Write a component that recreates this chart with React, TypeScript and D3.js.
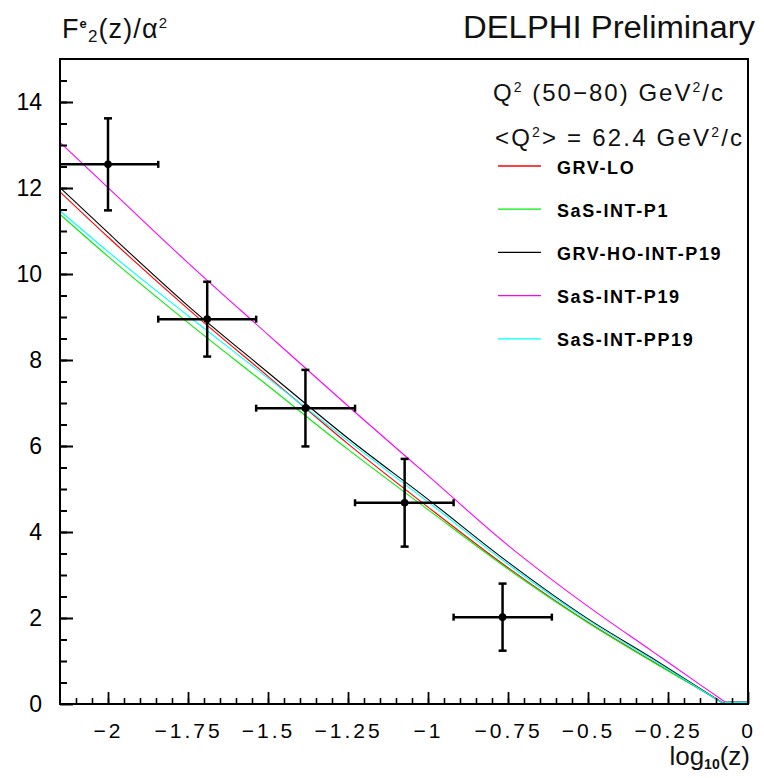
import { useEffect, useRef } from 'react'
import * as d3 from 'd3'

const W = 764
const H = 778
const FONT = '"Liberation Sans", Arial, sans-serif'

// axes
const xDomain = [-2.15, 0]
const yDomain = [0, 15]
const xTicks = [-2, -1.75, -1.5, -1.25, -1, -0.75, -0.5, -0.25, 0]
const yTicks = [0, 2, 4, 6, 8, 10, 12, 14]

// measured points (DELPHI)
const dataX = [-2.0, -1.69, -1.383, -1.073, -0.767]
const dataY = [12.55, 8.95, 6.88, 4.68, 2.02]
const dataYErr = [1.07, 0.87, 0.89, 1.02, 0.78]
const binEdges = [-2.15, -1.843, -1.537, -1.228, -0.92, -0.613]

// model curves, sampled at curveX, then zero from curveEnd up to 0
const curveX = [-2.15, -2.0, -1.75, -1.5, -1.25, -1.0, -0.75, -0.5, -0.3, -0.15]
const grvLo = [11.91, 10.86, 9.19, 7.62, 6.05, 4.58, 3.17, 1.9, 1.0, 0.34]
const sasP1 = [11.39, 10.41, 8.87, 7.4, 5.92, 4.52, 3.14, 1.89, 0.99, 0.34]
const grvHoP19 = [12.01, 10.96, 9.26, 7.71, 6.18, 4.76, 3.3, 1.98, 1.07, 0.36]
const sasP19 = [13.06, 12.01, 10.26, 8.59, 6.93, 5.31, 3.69, 2.27, 1.23, 0.45]
const sasPP19 = [11.47, 10.52, 9.03, 7.58, 6.12, 4.7, 3.25, 1.95, 1.04, 0.35]
const curveEnd = [-0.073, -0.073, -0.073, -0.0625, -0.073]

const seriesNames = ['GRV-LO', 'SaS-INT-P1', 'GRV-HO-INT-P19', 'SaS-INT-P19', 'SaS-INT-PP19']
const seriesValues = [grvLo, sasP1, grvHoP19, sasP19, sasPP19]
const seriesColors = ['#ff0000', '#00ee00', '#000000', '#ff00ff', '#00ffff']

export default function App() {
  const svgRef = useRef<SVGSVGElement>(null)

  useEffect(() => {
    const svg = d3.select(svgRef.current)
    svg.selectAll('*').remove()

    const x = d3.scaleLinear().domain(xDomain).range([60, 748])
    const y = d3.scaleLinear().domain(yDomain).range([704, 59])

    svg.append('rect').attr('width', W).attr('height', H).attr('fill', '#fff')

    // curves
    const line = d3
      .line<[number, number]>()
      .x((d) => x(d[0]))
      .y((d) => y(d[1]))
      .curve(d3.curveMonotoneX)

    seriesValues.forEach((vals, i) => {
      const pts: [number, number][] = curveX.map((cx, j) => [cx, vals[j]])
      pts.push([curveEnd[i], 0])
      svg
        .append('path')
        .attr('d', line(pts))
        .attr('fill', 'none')
        .attr('stroke', seriesColors[i])
        .attr('stroke-width', 1.1)
      svg
        .append('line')
        .attr('x1', x(curveEnd[i]))
        .attr('x2', x(0))
        .attr('y1', y(0) - 1.6)
        .attr('y2', y(0) - 1.6)
        .attr('stroke', seriesColors[i])
        .attr('stroke-width', 1.3)
    })

    // error bars + markers
    const pts = svg.append('g').attr('stroke', '#000').attr('stroke-width', 2.5)
    dataX.forEach((dx, i) => {
      const cx = x(dx)
      const cy = y(dataY[i])
      const yl = y(dataY[i] - dataYErr[i])
      const yh = y(dataY[i] + dataYErr[i])
      const xl = x(binEdges[i])
      const xh = x(binEdges[i + 1])
      pts.append('line').attr('x1', cx).attr('x2', cx).attr('y1', yl).attr('y2', yh)
      pts.append('line').attr('x1', cx - 4).attr('x2', cx + 4).attr('y1', yl).attr('y2', yl)
      pts.append('line').attr('x1', cx - 4).attr('x2', cx + 4).attr('y1', yh).attr('y2', yh)
      pts.append('line').attr('x1', xl).attr('x2', xh).attr('y1', cy).attr('y2', cy)
      if (i > 0) pts.append('line').attr('x1', xl).attr('x2', xl).attr('y1', cy - 3.5).attr('y2', cy + 3.5)
      pts.append('line').attr('x1', xh).attr('x2', xh).attr('y1', cy - 3.5).attr('y2', cy + 3.5)
      svg.append('circle').attr('cx', cx).attr('cy', cy).attr('r', 3.8).attr('fill', '#000')
    })

    // axes
    const fmtX = (d: number) => (d === 0 ? '0' : '\u2212' + Math.abs(d))
    const xMinor = d3.range(-2.1, -0.01, 0.05)
    const yMinor = d3.range(0.5, 15, 0.5)

    svg
      .append('g')
      .attr('transform', `translate(0,${y(0)})`)
      .call(d3.axisBottom(x).tickValues(xMinor).tickSizeInner(-6).tickSizeOuter(0).tickFormat(() => ''))
      .call((a) => a.select('.domain').remove())
      .selectAll('line')
      .attr('stroke-width', 1.6)

    const xa = svg
      .append('g')
      .attr('transform', `translate(0,${y(0)})`)
      .call(d3.axisBottom(x).tickValues(xTicks).tickSizeInner(-12).tickSizeOuter(0).tickPadding(19).tickFormat(fmtX))
    xa.select('.domain').remove()
    xa.selectAll('line').attr('stroke-width', 1.8)
    xa.selectAll('text')
      .style('font-family', FONT)
      .style('font-size', '21px')
      .style('letter-spacing', '3px')
      .attr('fill', '#000')

    svg
      .append('g')
      .attr('transform', `translate(${x(-2.15)},0)`)
      .call(d3.axisLeft(y).tickValues(yMinor).tickSizeInner(-7).tickSizeOuter(0).tickFormat(() => ''))
      .call((a) => a.select('.domain').remove())
      .selectAll('line')
      .attr('stroke-width', 2)

    const ya = svg
      .append('g')
      .attr('transform', `translate(${x(-2.15)},0)`)
      .call(d3.axisLeft(y).tickValues(yTicks).tickSizeInner(-13).tickSizeOuter(0).tickPadding(18).tickFormat(d3.format('d')))
    ya.select('.domain').remove()
    ya.selectAll('line').attr('stroke-width', 2)
    ya.selectAll('text').style('font-family', FONT).style('font-size', '23px').attr('fill', '#000')

    // frame
    svg
      .append('rect')
      .attr('x', x(-2.15))
      .attr('y', y(15))
      .attr('width', x(0) - x(-2.15))
      .attr('height', y(0) - y(15))
      .attr('fill', 'none')
      .attr('stroke', '#000')
      .attr('stroke-width', 2)

    // legend
    const leg = svg.append('g')
    seriesNames.forEach((name, i) => {
      const ly = 166 + i * 43.2
      leg.append('line').attr('x1', 498).attr('x2', 541).attr('y1', ly).attr('y2', ly)
        .attr('stroke', seriesColors[i]).attr('stroke-width', 1.3)
      leg.append('text').attr('x', 557).attr('y', ly + 7.5).text(name)
        .style('font-family', FONT).style('font-size', '18px').style('font-weight', 'bold')
        .style('letter-spacing', '1.6px').attr('fill', '#000')
    })

    // titles
    const t = svg.append('g').style('font-family', FONT).attr('fill', '#111')

    t.append('text').attr('x', 463).attr('y', 38).attr('textLength', 292).attr('lengthAdjust', 'spacingAndGlyphs')
      .style('font-size', '31px').text('DELPHI Preliminary')

    const q1 = t.append('text').attr('x', 493).attr('y', 101).attr('textLength', 230).style('font-size', '24px')
    q1.append('tspan').text('Q')
    q1.append('tspan').attr('dy', -9).style('font-size', '14px').text('2')
    q1.append('tspan').attr('dy', 9).text(' (50\u221280) GeV')
    q1.append('tspan').attr('dy', -9).style('font-size', '14px').text('2')
    q1.append('tspan').attr('dy', 9).text('/c')

    const q2 = t.append('text').attr('x', 495).attr('y', 146).attr('textLength', 247).style('font-size', '24px')
    q2.append('tspan').text('<Q')
    q2.append('tspan').attr('dy', -9).style('font-size', '14px').text('2')
    q2.append('tspan').attr('dy', 9).text('> = 62.4 GeV')
    q2.append('tspan').attr('dy', -9).style('font-size', '14px').text('2')
    q2.append('tspan').attr('dy', 9).text('/c')

    const yt = t.append('text').attr('x', 62).attr('y', 38).attr('textLength', 105).style('font-size', '27px')
    yt.append('tspan').text('F')
    yt.append('tspan').attr('dy', -10).style('font-size', '13px').style('font-weight', 'bold').text('e')
    yt.append('tspan').attr('dy', 14).style('font-size', '17px').text('2')
    yt.append('tspan').attr('dy', -4).text('(z)/\u03b1')
    yt.append('tspan').attr('dy', -10).style('font-size', '15px').text('2')

    const xt = t.append('text').attr('x', 750).attr('y', 765).attr('text-anchor', 'end').style('font-size', '26px')
    xt.append('tspan').text('log')
    xt.append('tspan').attr('dy', 4).style('font-size', '14px').style('font-weight', 'bold').text('10')
    xt.append('tspan').attr('dy', -4).text('(z)')
  }, [])

  return <svg ref={svgRef} width={W} height={H} style={{ position: 'absolute', left: 0, top: 0 }} />
}
